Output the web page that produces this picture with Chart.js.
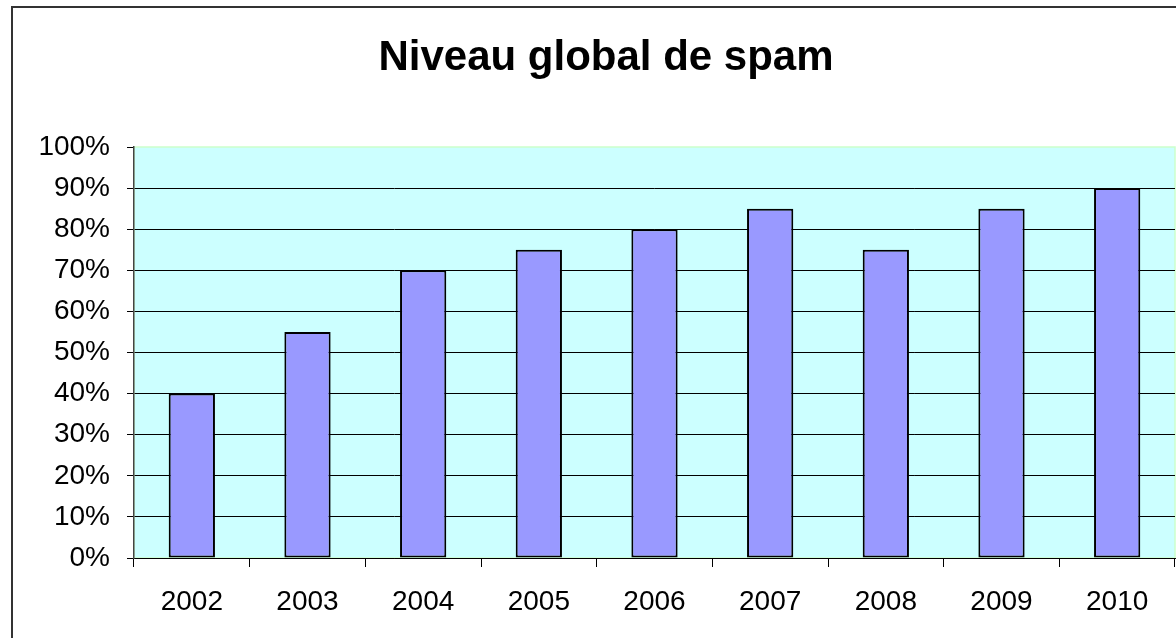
<!DOCTYPE html>
<html>
<head>
<meta charset="utf-8">
<script src="https://cdn.jsdelivr.net/npm/chart.js@4/dist/chart.umd.min.js"></script>
<style>
html,body{margin:0;padding:0;background:#fff;}
canvas{display:block;}
</style>
</head>
<body>
<canvas id="c" width="1176" height="638"></canvas>
<script>
const titleText = "Niveau global de spam";
const categories = ["2002","2003","2004","2005","2006","2007","2008","2009","2010"];
const spamLevel = [40, 55, 70, 75, 80, 85, 75, 85, 90];
const yTicks = [0,10,20,30,40,50,60,70,80,90,100];

const FONT = "'Liberation Sans', Arial, sans-serif";

const decor = {
  id: 'decor',
  beforeDraw(chart) {
    const {ctx, chartArea: a} = chart;
    ctx.save();
    ctx.fillStyle = '#fff';
    ctx.fillRect(0, 0, chart.width, chart.height);
    // outer frame
    ctx.strokeStyle = '#333';
    ctx.lineWidth = 2;
    ctx.strokeRect(12, 7, 3000, 3000);
    // plot background
    ctx.fillStyle = '#CCFFFF';
    ctx.fillRect(a.left, a.top, a.right - a.left, a.bottom - a.top);
    ctx.strokeStyle = '#CCFFCC';
    ctx.lineWidth = 1.5;
    ctx.strokeRect(a.left, a.top, a.right - a.left, a.bottom - a.top);
    // title
    ctx.fillStyle = '#000';
    ctx.font = "bold 42px " + FONT;
    ctx.textAlign = 'center';
    ctx.textBaseline = 'alphabetic';
    ctx.fillText(titleText, 606, 70);
    ctx.restore();
  }
};

new Chart(document.getElementById('c'), {
  type: 'bar',
  data: {
    labels: categories,
    datasets: [{
      data: spamLevel,
      backgroundColor: '#9999FF',
      borderColor: '#000',
      borderWidth: 2,
      borderSkipped: false,
      categoryPercentage: 1,
      barPercentage: 0.4
    }]
  },
  options: {
    responsive: false,
    devicePixelRatio: 1,
    animation: false,
    layout: { padding: { top: 147, right: 1, left: 0, bottom: 0 } },
    plugins: {
      legend: { display: false },
      title: { display: false },
      tooltip: { enabled: false }
    },
    scales: {
      x: {
        offset: true,
        grid: { display: true, drawOnChartArea: false, offset: true, tickLength: 9, tickColor: '#000', color: '#000' },
        border: { display: true, color: '#000', width: 1 },
        ticks: { color: '#000', font: { family: FONT, size: 28 }, padding: 18, maxRotation: 0 },
        afterFit(s) { s.height = 80; }
      },
      y: {
        min: 0, max: 100,
        afterBuildTicks(s) { s.ticks = yTicks.map(v => ({value: v})); },
        grid: {
          color: ctx => (ctx.tick && ctx.tick.value === 100) ? 'rgba(0,0,0,0)' : '#000',
          tickColor: '#000',
          tickLength: 7,
          lineWidth: 1
        },
        border: { display: true, color: '#444', width: 1.5 },
        ticks: {
          color: '#000',
          font: { family: FONT, size: 28 },
          padding: 17,
          callback: v => v + '%'
        },
        afterFit(s) { s.width = 134; }
      }
    }
  },
  plugins: [decor]
});
</script>
</body>
</html>
